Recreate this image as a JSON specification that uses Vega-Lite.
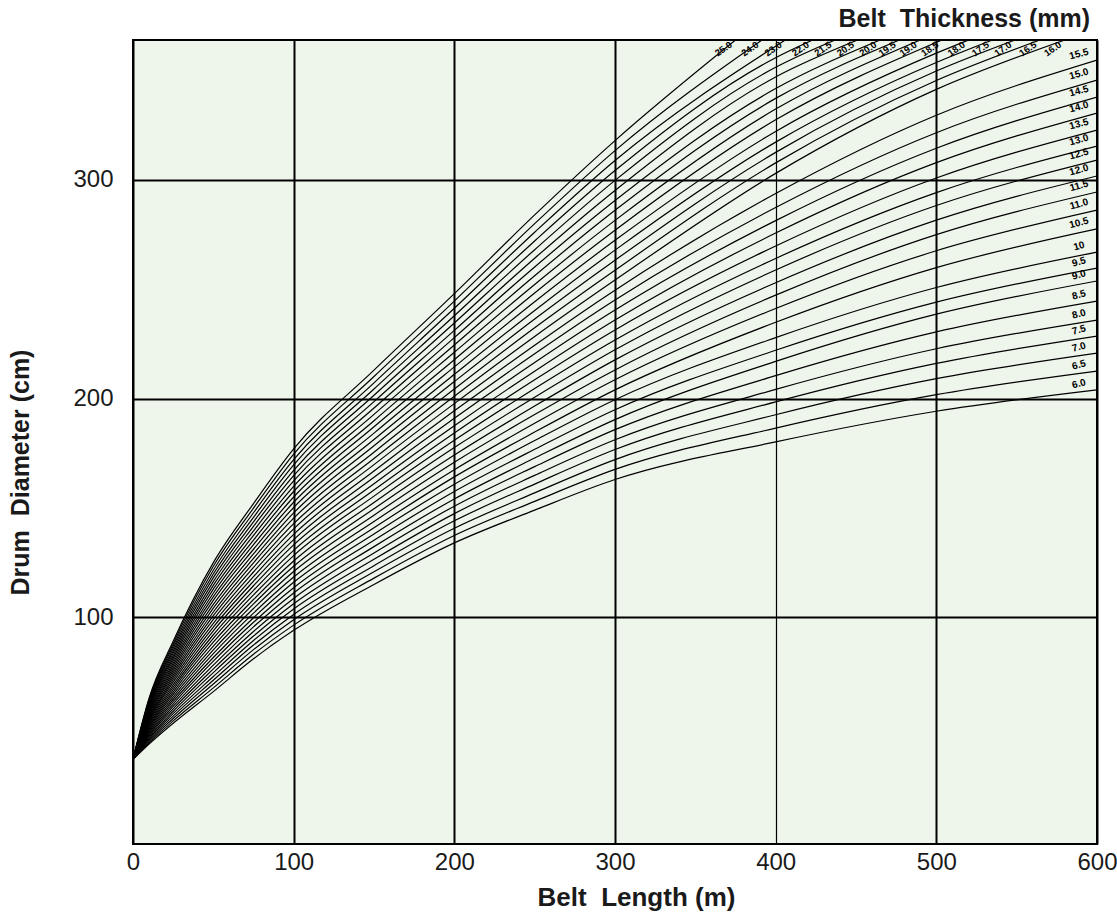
{
"$schema": "https://vega.github.io/schema/vega-lite/v6.json",
"width": 964, "height": 804,
"autosize": {"type": "none"},
"padding": {"left": 133, "top": 40, "right": 20, "bottom": 70},
"background": "white",
"title": {"text": "Belt\u00a0 Thickness (mm)", "anchor": "end", "frame": "group", "align": "right", "fontSize": 25, "fontWeight": "bold", "font": "Liberation Sans", "color": "#1a1a1a", "offset": 8, "dx": -7},
"config": {"view": {"stroke": "black", "strokeWidth": 2, "fill": "#eef5ea"}, "font": "Liberation Sans"},
"datasets": {
"curves": [
{"t":"6.0","L":0,"D":35},{"t":"6.0","L":10,"D":42},{"t":"6.0","L":25,"D":51.5},{"t":"6.0","L":50,"D":66},{"t":"6.0","L":75,"D":81},{"t":"6.0","L":100,"D":94},{"t":"6.0","L":150,"D":115},{"t":"6.0","L":200,"D":134},{"t":"6.0","L":250,"D":149},{"t":"6.0","L":300,"D":163},{"t":"6.0","L":400,"D":180.2},{"t":"6.0","L":500,"D":194.2},{"t":"6.0","L":600,"D":204},
{"t":"6.5","L":0,"D":35},{"t":"6.5","L":10,"D":42.6},{"t":"6.5","L":25,"D":52.6},{"t":"6.5","L":50,"D":67.7},{"t":"6.5","L":75,"D":83.1},{"t":"6.5","L":100,"D":96.4},{"t":"6.5","L":150,"D":117.9},{"t":"6.5","L":200,"D":137.4},{"t":"6.5","L":250,"D":153},{"t":"6.5","L":300,"D":167.6},{"t":"6.5","L":400,"D":186.5},{"t":"6.5","L":500,"D":201.8},{"t":"6.5","L":600,"D":212.6},
{"t":"7.0","L":0,"D":35},{"t":"7.0","L":10,"D":43.2},{"t":"7.0","L":25,"D":53.7},{"t":"7.0","L":50,"D":69.5},{"t":"7.0","L":75,"D":85.2},{"t":"7.0","L":100,"D":98.9},{"t":"7.0","L":150,"D":120.8},{"t":"7.0","L":200,"D":140.7},{"t":"7.0","L":250,"D":156.9},{"t":"7.0","L":300,"D":172.1},{"t":"7.0","L":400,"D":192.6},{"t":"7.0","L":500,"D":209.1},{"t":"7.0","L":600,"D":220.8},
{"t":"7.5","L":0,"D":35},{"t":"7.5","L":10,"D":43.9},{"t":"7.5","L":25,"D":54.8},{"t":"7.5","L":50,"D":71.2},{"t":"7.5","L":75,"D":87.3},{"t":"7.5","L":100,"D":101.3},{"t":"7.5","L":150,"D":123.6},{"t":"7.5","L":200,"D":144.1},{"t":"7.5","L":250,"D":160.9},{"t":"7.5","L":300,"D":176.7},{"t":"7.5","L":400,"D":198.5},{"t":"7.5","L":500,"D":216.1},{"t":"7.5","L":600,"D":228.6},
{"t":"8.0","L":0,"D":35},{"t":"8.0","L":10,"D":44.5},{"t":"8.0","L":25,"D":55.9},{"t":"8.0","L":50,"D":72.9},{"t":"8.0","L":75,"D":89.4},{"t":"8.0","L":100,"D":103.8},{"t":"8.0","L":150,"D":126.5},{"t":"8.0","L":200,"D":147.4},{"t":"8.0","L":250,"D":164.9},{"t":"8.0","L":300,"D":181.2},{"t":"8.0","L":400,"D":204.2},{"t":"8.0","L":500,"D":222.8},{"t":"8.0","L":600,"D":235.9},
{"t":"8.5","L":0,"D":35},{"t":"8.5","L":10,"D":45.1},{"t":"8.5","L":25,"D":57},{"t":"8.5","L":50,"D":74.7},{"t":"8.5","L":75,"D":91.4},{"t":"8.5","L":100,"D":106.2},{"t":"8.5","L":150,"D":129.4},{"t":"8.5","L":200,"D":150.8},{"t":"8.5","L":250,"D":168.9},{"t":"8.5","L":300,"D":185.8},{"t":"8.5","L":400,"D":210.5},{"t":"8.5","L":500,"D":230.5},{"t":"8.5","L":600,"D":244.6},
{"t":"9.0","L":0,"D":35},{"t":"9.0","L":10,"D":45.7},{"t":"9.0","L":25,"D":58.1},{"t":"9.0","L":50,"D":76.4},{"t":"9.0","L":75,"D":93.5},{"t":"9.0","L":100,"D":108.6},{"t":"9.0","L":150,"D":132.3},{"t":"9.0","L":200,"D":154.1},{"t":"9.0","L":250,"D":172.8},{"t":"9.0","L":300,"D":190.4},{"t":"9.0","L":400,"D":217},{"t":"9.0","L":500,"D":238.6},{"t":"9.0","L":600,"D":253.8},
{"t":"9.5","L":0,"D":35},{"t":"9.5","L":10,"D":46.3},{"t":"9.5","L":25,"D":59.2},{"t":"9.5","L":50,"D":78.1},{"t":"9.5","L":75,"D":95.6},{"t":"9.5","L":100,"D":111.1},{"t":"9.5","L":150,"D":135.2},{"t":"9.5","L":200,"D":157.5},{"t":"9.5","L":250,"D":176.8},{"t":"9.5","L":300,"D":194.9},{"t":"9.5","L":400,"D":222.1},{"t":"9.5","L":500,"D":244.1},{"t":"9.5","L":600,"D":259.7},
{"t":"10","L":0,"D":35},{"t":"10","L":10,"D":46.9},{"t":"10","L":25,"D":60.3},{"t":"10","L":50,"D":79.9},{"t":"10","L":75,"D":97.7},{"t":"10","L":100,"D":113.5},{"t":"10","L":150,"D":138.1},{"t":"10","L":200,"D":160.8},{"t":"10","L":250,"D":180.8},{"t":"10","L":300,"D":199.5},{"t":"10","L":400,"D":227.9},{"t":"10","L":500,"D":250.8},{"t":"10","L":600,"D":267},
{"t":"10.5","L":0,"D":35},{"t":"10.5","L":10,"D":47.6},{"t":"10.5","L":25,"D":61.4},{"t":"10.5","L":50,"D":81.6},{"t":"10.5","L":75,"D":99.8},{"t":"10.5","L":100,"D":116},{"t":"10.5","L":150,"D":140.9},{"t":"10.5","L":200,"D":164.2},{"t":"10.5","L":250,"D":184.7},{"t":"10.5","L":300,"D":204},{"t":"10.5","L":400,"D":234.9},{"t":"10.5","L":500,"D":259.9},{"t":"10.5","L":600,"D":277.6},
{"t":"11.0","L":0,"D":35},{"t":"11.0","L":10,"D":48.2},{"t":"11.0","L":25,"D":62.5},{"t":"11.0","L":50,"D":83.4},{"t":"11.0","L":75,"D":101.9},{"t":"11.0","L":100,"D":118.4},{"t":"11.0","L":150,"D":143.8},{"t":"11.0","L":200,"D":167.5},{"t":"11.0","L":250,"D":188.7},{"t":"11.0","L":300,"D":208.6},{"t":"11.0","L":400,"D":241.2},{"t":"11.0","L":500,"D":267.6},{"t":"11.0","L":600,"D":286.2},
{"t":"11.5","L":0,"D":35},{"t":"11.5","L":10,"D":48.8},{"t":"11.5","L":25,"D":63.6},{"t":"11.5","L":50,"D":85.1},{"t":"11.5","L":75,"D":104},{"t":"11.5","L":100,"D":120.9},{"t":"11.5","L":150,"D":146.7},{"t":"11.5","L":200,"D":170.9},{"t":"11.5","L":250,"D":192.7},{"t":"11.5","L":300,"D":213.1},{"t":"11.5","L":400,"D":247.3},{"t":"11.5","L":500,"D":275},{"t":"11.5","L":600,"D":294.5},
{"t":"12.0","L":0,"D":35},{"t":"12.0","L":10,"D":49.4},{"t":"12.0","L":25,"D":64.7},{"t":"12.0","L":50,"D":86.8},{"t":"12.0","L":75,"D":106.1},{"t":"12.0","L":100,"D":123.3},{"t":"12.0","L":150,"D":149.6},{"t":"12.0","L":200,"D":174.2},{"t":"12.0","L":250,"D":196.6},{"t":"12.0","L":300,"D":217.7},{"t":"12.0","L":400,"D":253},{"t":"12.0","L":500,"D":281.6},{"t":"12.0","L":600,"D":301.8},
{"t":"12.5","L":0,"D":35},{"t":"12.5","L":10,"D":50},{"t":"12.5","L":25,"D":65.8},{"t":"12.5","L":50,"D":88.6},{"t":"12.5","L":75,"D":108.1},{"t":"12.5","L":100,"D":125.7},{"t":"12.5","L":150,"D":152.5},{"t":"12.5","L":200,"D":177.6},{"t":"12.5","L":250,"D":200.6},{"t":"12.5","L":300,"D":222.3},{"t":"12.5","L":400,"D":258.8},{"t":"12.5","L":500,"D":288.3},{"t":"12.5","L":600,"D":309.1},
{"t":"13.0","L":0,"D":35},{"t":"13.0","L":10,"D":50.6},{"t":"13.0","L":25,"D":66.9},{"t":"13.0","L":50,"D":90.3},{"t":"13.0","L":75,"D":110.2},{"t":"13.0","L":100,"D":128.2},{"t":"13.0","L":150,"D":155.4},{"t":"13.0","L":200,"D":180.9},{"t":"13.0","L":250,"D":204.6},{"t":"13.0","L":300,"D":226.8},{"t":"13.0","L":400,"D":264.1},{"t":"13.0","L":500,"D":294.2},{"t":"13.0","L":600,"D":315.5},
{"t":"13.5","L":0,"D":35},{"t":"13.5","L":10,"D":51.3},{"t":"13.5","L":25,"D":68},{"t":"13.5","L":50,"D":92},{"t":"13.5","L":75,"D":112.3},{"t":"13.5","L":100,"D":130.6},{"t":"13.5","L":150,"D":158.2},{"t":"13.5","L":200,"D":184.3},{"t":"13.5","L":250,"D":208.6},{"t":"13.5","L":300,"D":231.4},{"t":"13.5","L":400,"D":269.8},{"t":"13.5","L":500,"D":300.9},{"t":"13.5","L":600,"D":322.8},
{"t":"14.0","L":0,"D":35},{"t":"14.0","L":10,"D":51.9},{"t":"14.0","L":25,"D":69.1},{"t":"14.0","L":50,"D":93.8},{"t":"14.0","L":75,"D":114.4},{"t":"14.0","L":100,"D":133.1},{"t":"14.0","L":150,"D":161.1},{"t":"14.0","L":200,"D":187.6},{"t":"14.0","L":250,"D":212.5},{"t":"14.0","L":300,"D":235.9},{"t":"14.0","L":400,"D":275.7},{"t":"14.0","L":500,"D":307.9},{"t":"14.0","L":600,"D":330.6},
{"t":"14.5","L":0,"D":35},{"t":"14.5","L":10,"D":52.5},{"t":"14.5","L":25,"D":70.3},{"t":"14.5","L":50,"D":95.5},{"t":"14.5","L":75,"D":116.5},{"t":"14.5","L":100,"D":135.5},{"t":"14.5","L":150,"D":164},{"t":"14.5","L":200,"D":191},{"t":"14.5","L":250,"D":216.5},{"t":"14.5","L":300,"D":240.5},{"t":"14.5","L":400,"D":281.4},{"t":"14.5","L":500,"D":314.5},{"t":"14.5","L":600,"D":337.9},
{"t":"15.0","L":0,"D":35},{"t":"15.0","L":10,"D":53.1},{"t":"15.0","L":25,"D":71.4},{"t":"15.0","L":50,"D":97.2},{"t":"15.0","L":75,"D":118.6},{"t":"15.0","L":100,"D":137.9},{"t":"15.0","L":150,"D":166.9},{"t":"15.0","L":200,"D":194.4},{"t":"15.0","L":250,"D":220.5},{"t":"15.0","L":300,"D":245.1},{"t":"15.0","L":400,"D":287.4},{"t":"15.0","L":500,"D":321.6},{"t":"15.0","L":600,"D":345.7},
{"t":"15.5","L":0,"D":35},{"t":"15.5","L":10,"D":53.7},{"t":"15.5","L":25,"D":72.5},{"t":"15.5","L":50,"D":99},{"t":"15.5","L":75,"D":120.7},{"t":"15.5","L":100,"D":140.4},{"t":"15.5","L":150,"D":169.8},{"t":"15.5","L":200,"D":197.7},{"t":"15.5","L":250,"D":224.4},{"t":"15.5","L":300,"D":249.6},{"t":"15.5","L":400,"D":293.8},{"t":"15.5","L":500,"D":329.6},{"t":"15.5","L":600,"D":354.8},
{"t":"16.0","L":0,"D":35},{"t":"16.0","L":10,"D":54.4},{"t":"16.0","L":25,"D":73.6},{"t":"16.0","L":50,"D":100.7},{"t":"16.0","L":75,"D":122.8},{"t":"16.0","L":100,"D":142.8},{"t":"16.0","L":150,"D":172.6},{"t":"16.0","L":200,"D":201.1},{"t":"16.0","L":250,"D":228.4},{"t":"16.0","L":300,"D":254.2},{"t":"16.0","L":400,"D":303},{"t":"16.0","L":500,"D":341.4},{"t":"16.0","L":580,"D":364},
{"t":"16.5","L":0,"D":35},{"t":"16.5","L":10,"D":55},{"t":"16.5","L":25,"D":74.7},{"t":"16.5","L":50,"D":102.4},{"t":"16.5","L":75,"D":124.9},{"t":"16.5","L":100,"D":145.3},{"t":"16.5","L":150,"D":175.5},{"t":"16.5","L":200,"D":204.4},{"t":"16.5","L":250,"D":232.4},{"t":"16.5","L":300,"D":258.7},{"t":"16.5","L":400,"D":307.8},{"t":"16.5","L":500,"D":345.5},{"t":"16.5","L":564.5,"D":364},
{"t":"17.0","L":0,"D":35},{"t":"17.0","L":10,"D":55.6},{"t":"17.0","L":25,"D":75.8},{"t":"17.0","L":50,"D":104.2},{"t":"17.0","L":75,"D":126.9},{"t":"17.0","L":100,"D":147.7},{"t":"17.0","L":150,"D":178.4},{"t":"17.0","L":200,"D":207.8},{"t":"17.0","L":250,"D":236.4},{"t":"17.0","L":300,"D":263.3},{"t":"17.0","L":400,"D":312.6},{"t":"17.0","L":500,"D":349.8},{"t":"17.0","L":549,"D":364},
{"t":"17.5","L":0,"D":35},{"t":"17.5","L":10,"D":56.2},{"t":"17.5","L":25,"D":76.9},{"t":"17.5","L":50,"D":105.9},{"t":"17.5","L":75,"D":129},{"t":"17.5","L":100,"D":150.2},{"t":"17.5","L":150,"D":181.3},{"t":"17.5","L":200,"D":211.1},{"t":"17.5","L":250,"D":240.3},{"t":"17.5","L":300,"D":267.9},{"t":"17.5","L":400,"D":317.3},{"t":"17.5","L":500,"D":353.7},{"t":"17.5","L":535,"D":364},
{"t":"18.0","L":0,"D":35},{"t":"18.0","L":10,"D":56.8},{"t":"18.0","L":25,"D":78},{"t":"18.0","L":50,"D":107.7},{"t":"18.0","L":75,"D":131.1},{"t":"18.0","L":100,"D":152.6},{"t":"18.0","L":150,"D":184.2},{"t":"18.0","L":200,"D":214.5},{"t":"18.0","L":250,"D":244.3},{"t":"18.0","L":300,"D":272.4},{"t":"18.0","L":400,"D":322.2},{"t":"18.0","L":500,"D":358},{"t":"18.0","L":520,"D":364},
{"t":"18.5","L":0,"D":35},{"t":"18.5","L":10,"D":57.4},{"t":"18.5","L":25,"D":79.1},{"t":"18.5","L":50,"D":109.4},{"t":"18.5","L":75,"D":133.2},{"t":"18.5","L":100,"D":155},{"t":"18.5","L":150,"D":187.1},{"t":"18.5","L":200,"D":217.8},{"t":"18.5","L":250,"D":248.3},{"t":"18.5","L":300,"D":277},{"t":"18.5","L":400,"D":327.5},{"t":"18.5","L":503.5,"D":364},
{"t":"19.0","L":0,"D":35},{"t":"19.0","L":10,"D":58.1},{"t":"19.0","L":25,"D":80.2},{"t":"19.0","L":50,"D":111.1},{"t":"19.0","L":75,"D":135.3},{"t":"19.0","L":100,"D":157.5},{"t":"19.0","L":150,"D":189.9},{"t":"19.0","L":200,"D":221.2},{"t":"19.0","L":250,"D":252.2},{"t":"19.0","L":300,"D":281.5},{"t":"19.0","L":400,"D":332.4},{"t":"19.0","L":490,"D":364},
{"t":"19.5","L":0,"D":35},{"t":"19.5","L":10,"D":58.7},{"t":"19.5","L":25,"D":81.3},{"t":"19.5","L":50,"D":112.9},{"t":"19.5","L":75,"D":137.4},{"t":"19.5","L":100,"D":159.9},{"t":"19.5","L":150,"D":192.8},{"t":"19.5","L":200,"D":224.5},{"t":"19.5","L":250,"D":256.2},{"t":"19.5","L":300,"D":286.1},{"t":"19.5","L":400,"D":337.3},{"t":"19.5","L":477,"D":364},
{"t":"20.0","L":0,"D":35},{"t":"20.0","L":10,"D":59.3},{"t":"20.0","L":25,"D":82.4},{"t":"20.0","L":50,"D":114.6},{"t":"20.0","L":75,"D":139.5},{"t":"20.0","L":100,"D":162.4},{"t":"20.0","L":150,"D":195.7},{"t":"20.0","L":200,"D":227.9},{"t":"20.0","L":250,"D":260.2},{"t":"20.0","L":300,"D":290.6},{"t":"20.0","L":400,"D":341.8},{"t":"20.0","L":465,"D":364},
{"t":"20.5","L":0,"D":35},{"t":"20.5","L":10,"D":59.9},{"t":"20.5","L":25,"D":83.5},{"t":"20.5","L":50,"D":116.3},{"t":"20.5","L":75,"D":141.6},{"t":"20.5","L":100,"D":164.8},{"t":"20.5","L":150,"D":198.6},{"t":"20.5","L":200,"D":231.2},{"t":"20.5","L":250,"D":264.2},{"t":"20.5","L":300,"D":295.2},{"t":"20.5","L":400,"D":347.1},{"t":"20.5","L":451,"D":364},
{"t":"21.5","L":0,"D":35},{"t":"21.5","L":10,"D":60.5},{"t":"21.5","L":25,"D":84.6},{"t":"21.5","L":50,"D":118.1},{"t":"21.5","L":75,"D":143.6},{"t":"21.5","L":100,"D":167.2},{"t":"21.5","L":150,"D":201.5},{"t":"21.5","L":200,"D":234.6},{"t":"21.5","L":250,"D":268.1},{"t":"21.5","L":300,"D":299.8},{"t":"21.5","L":400,"D":351.5},{"t":"21.5","L":437,"D":364},
{"t":"22.0","L":0,"D":35},{"t":"22.0","L":10,"D":61.1},{"t":"22.0","L":25,"D":85.7},{"t":"22.0","L":50,"D":119.8},{"t":"22.0","L":75,"D":145.7},{"t":"22.0","L":100,"D":169.7},{"t":"22.0","L":150,"D":204.4},{"t":"22.0","L":200,"D":237.9},{"t":"22.0","L":250,"D":272.1},{"t":"22.0","L":300,"D":304.3},{"t":"22.0","L":400,"D":355.9},{"t":"22.0","L":423,"D":364},
{"t":"23.0","L":0,"D":35},{"t":"23.0","L":10,"D":61.8},{"t":"23.0","L":25,"D":86.8},{"t":"23.0","L":50,"D":121.5},{"t":"23.0","L":75,"D":147.8},{"t":"23.0","L":100,"D":172.1},{"t":"23.0","L":150,"D":207.2},{"t":"23.0","L":200,"D":241.3},{"t":"23.0","L":250,"D":276.1},{"t":"23.0","L":300,"D":308.9},{"t":"23.0","L":406,"D":364},
{"t":"24.0","L":0,"D":35},{"t":"24.0","L":10,"D":62.4},{"t":"24.0","L":25,"D":87.9},{"t":"24.0","L":50,"D":123.3},{"t":"24.0","L":75,"D":149.9},{"t":"24.0","L":100,"D":174.6},{"t":"24.0","L":150,"D":210.1},{"t":"24.0","L":200,"D":244.6},{"t":"24.0","L":250,"D":280},{"t":"24.0","L":300,"D":313.4},{"t":"24.0","L":391.5,"D":364},
{"t":"25.0","L":0,"D":35},{"t":"25.0","L":10,"D":63},{"t":"25.0","L":25,"D":89},{"t":"25.0","L":50,"D":125},{"t":"25.0","L":75,"D":152},{"t":"25.0","L":100,"D":177},{"t":"25.0","L":150,"D":213},{"t":"25.0","L":200,"D":248},{"t":"25.0","L":250,"D":284},{"t":"25.0","L":300,"D":318},{"t":"25.0","L":375,"D":364}
],
"labels": [
{"t":"25.0","L":375,"D":364,"side":"top"},{"t":"24.0","L":391.5,"D":364,"side":"top"},{"t":"23.0","L":406,"D":364,"side":"top"},{"t":"22.0","L":423,"D":364,"side":"top"},{"t":"21.5","L":437,"D":364,"side":"top"},{"t":"20.5","L":451,"D":364,"side":"top"},{"t":"20.0","L":465,"D":364,"side":"top"},{"t":"19.5","L":477,"D":364,"side":"top"},{"t":"19.0","L":490,"D":364,"side":"top"},{"t":"18.5","L":503.5,"D":364,"side":"top"},{"t":"18.0","L":520,"D":364,"side":"top"},{"t":"17.5","L":535,"D":364,"side":"top"},{"t":"17.0","L":549,"D":364,"side":"top"},{"t":"16.5","L":564.5,"D":364,"side":"top"},{"t":"16.0","L":580,"D":364,"side":"top"},
{"t":"15.5","L":600,"D":354.8,"side":"right"},{"t":"15.0","L":600,"D":345.7,"side":"right"},{"t":"14.5","L":600,"D":337.9,"side":"right"},{"t":"14.0","L":600,"D":330.6,"side":"right"},{"t":"13.5","L":600,"D":322.8,"side":"right"},{"t":"13.0","L":600,"D":315.5,"side":"right"},{"t":"12.5","L":600,"D":309.1,"side":"right"},{"t":"12.0","L":600,"D":301.8,"side":"right"},{"t":"11.5","L":600,"D":294.5,"side":"right"},{"t":"11.0","L":600,"D":286.2,"side":"right"},{"t":"10.5","L":600,"D":277.6,"side":"right"},{"t":"10","L":600,"D":267,"side":"right"},{"t":"9.5","L":600,"D":259.7,"side":"right"},{"t":"9.0","L":600,"D":253.8,"side":"right"},{"t":"8.5","L":600,"D":244.6,"side":"right"},{"t":"8.0","L":600,"D":235.9,"side":"right"},{"t":"7.5","L":600,"D":228.6,"side":"right"},{"t":"7.0","L":600,"D":220.8,"side":"right"},{"t":"6.5","L":600,"D":212.6,"side":"right"},{"t":"6.0","L":600,"D":204,"side":"right"}
]
},
"encoding": {
"x": {"field": "L", "type": "quantitative", "scale": {"domain": [0, 600], "nice": false, "zero": false},
 "axis": {"values": [0, 100, 200, 300, 400, 500, 600], "title": "Belt\u00a0 Length (m)", "grid": true, "gridColor": "black", "gridOpacity": 1,
  "gridWidth": {"condition": {"test": "datum.value === 400", "value": 1.2}, "value": 2},
  "domain": false, "ticks": false, "labelFontSize": 24, "labelPadding": 6, "labelColor": "#1a1a1a", "labelFlush": false,
  "titleFontSize": 26, "titleFontWeight": "bold", "titlePadding": 10, "titleColor": "#1a1a1a", "titleX": 503}},
"y": {"field": "D", "type": "quantitative", "scale": {"domain": [-3.7, 364], "nice": false, "zero": false},
 "axis": {"values": [100, 200, 300], "title": "Drum\u00a0 Diameter (cm)", "grid": true, "gridColor": "black", "gridOpacity": 1, "gridWidth": 2,
  "domain": false, "ticks": false, "labelFontSize": 24, "labelPadding": 20, "labelColor": "#1a1a1a",
  "titleFontSize": 25, "titleFontWeight": "bold", "titleColor": "#1a1a1a", "titleX": -100, "titleY": 432}}
},
"layer": [
{"data": {"name": "curves"}, "mark": {"type": "line", "color": "black", "strokeWidth": 1.2, "interpolate": "monotone", "clip": true},
 "encoding": {"detail": {"field": "t", "type": "nominal"}}},
{"data": {"name": "labels"}, "transform": [{"filter": "datum.side === 'top'"}],
 "mark": {"type": "text", "angle": 325, "fontSize": 9.5, "fontWeight": "bold", "color": "black", "xOffset": -12, "yOffset": 9},
 "encoding": {"text": {"field": "t", "type": "nominal"}}},
{"data": {"name": "labels"}, "transform": [{"filter": "datum.side === 'right'"}],
 "mark": {"type": "text", "angle": 345, "fontSize": 10, "fontWeight": "bold", "color": "black", "xOffset": -18, "yOffset": -6},
 "encoding": {"text": {"field": "t", "type": "nominal"}}}
]
}
